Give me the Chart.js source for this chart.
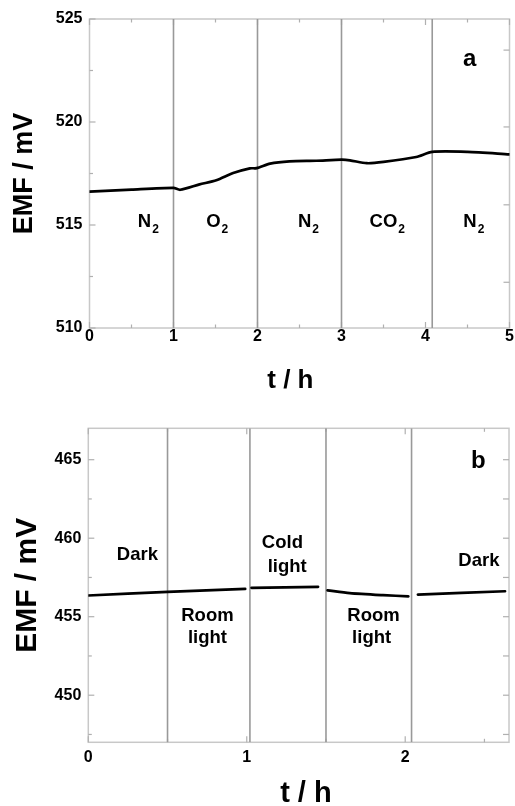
<!DOCTYPE html>
<html><head><meta charset="utf-8">
<script src="https://cdn.jsdelivr.net/npm/chart.js@4/dist/chart.umd.min.js"></script>
<style>
html,body{margin:0;padding:0;background:#fff;}
#wrap{position:relative;width:515px;height:806px;overflow:hidden;}
.box{position:absolute;left:0;width:515px;height:403px;}
canvas{display:block;}
</style></head><body>
<div id="wrap">
<div class="box" style="top:0"><canvas id="cA"></canvas></div>
<div class="box" style="top:403px"><canvas id="cB"></canvas></div>
</div>
<script>
// ---------- Panel a data ----------
const timeA = [0, 0.5, 1.0, 1.08, 1.31, 1.51, 1.71, 1.91, 1.99, 2.15, 2.38, 2.7, 3.0, 3.1, 3.3, 3.5, 3.89, 4.08, 4.5, 5.0];
const emfA  = [516.62, 516.72, 516.80, 516.71, 516.97, 517.17, 517.52, 517.75, 517.76, 517.98, 518.09, 518.12, 518.17, 518.14, 518.0, 518.06, 518.3, 518.55, 518.55, 518.43];
const switchTimesA = [1.0, 2.0, 3.0, 4.08];
const gasNames = ['N', 'O', 'N', 'CO', 'N'];
const gasSubs  = ['2', '2', '2', '2', '2'];
const xTicksA = [0, 1, 2, 3, 4, 5];
const xMinorA = [0.5, 1.5, 2.5, 3.5, 4.5];
const yTicksA = [510, 515, 520, 525];
const yMinorA = [512.5, 517.5, 522.5];
const yRightTicksA = [523.49, 519.76, 515.98, 512.22];

// ---------- Panel b data ----------
const timeB1 = [0, 0.5, 0.99];
const emfB1  = [456.35, 456.58, 456.77];
const timeB2 = [1.03, 1.45];
const emfB2  = [456.84, 456.90];
const timeB3 = [1.51, 1.65, 1.86, 2.02];
const emfB3  = [456.68, 456.50, 456.37, 456.30];
const timeB4 = [2.08, 2.63];
const emfB4  = [456.41, 456.62];
const switchTimesB = [0.50, 1.02, 1.50, 2.04];
const lightNames = ['Dark', 'Room', 'light', 'Cold', 'light', 'Room', 'light', 'Dark'];
const xTicksB = [0, 1, 2];
const xMinorB = [0.5, 1.5, 2.5];
const yTicksB = [450, 455, 460, 465];
const yMinorB = [447.5, 452.5, 457.5, 462.5];

// ---------- label placement (data coordinates) ----------
const gasPosA = [[0.70, 514.89], [1.52, 514.89], [2.607, 514.89], [3.545, 514.89], [4.575, 514.89]];
const panelTagA = {text: 'a', x: 4.525, y: 522.71};
const lightPosB = [[0.31, 458.63], [0.752, 454.72], [0.752, 453.33], [1.225, 459.37], [1.255, 457.87],
                   [1.80, 454.72], [1.788, 453.33], [2.465, 458.2]];
const panelTagB = {text: 'b', x: 2.462, y: 464.49};

const FONT = "'Liberation Sans', Arial, Helvetica, sans-serif";
const pts = (xs, ys) => xs.map((x, i) => ({x: x, y: ys[i]}));

function frameTicksPlugin(spec) {
  return {
    id: 'frameTicks',
    beforeDatasetsDraw(chart) {
      const ctx = chart.ctx, a = chart.chartArea, xs = chart.scales.x, ys = chart.scales.y;
      ctx.save();
      ctx.strokeStyle = '#c8c8c8';
      ctx.lineWidth = 1.5;
      ctx.strokeRect(a.left, a.top, a.right - a.left, a.bottom - a.top);
      ctx.strokeStyle = '#b0b0b0';
      ctx.lineWidth = 1.2;
      const line = (x1, y1, x2, y2) => { ctx.beginPath(); ctx.moveTo(x1, y1); ctx.lineTo(x2, y2); ctx.stroke(); };
      spec.xMajor.forEach(v => { const p = xs.getPixelForValue(v); line(p, a.bottom, p, a.bottom - 6); line(p, a.top, p, a.top + 6); });
      spec.xMinor.forEach(v => { const p = xs.getPixelForValue(v); line(p, a.bottom, p, a.bottom - 3.5); line(p, a.top, p, a.top + 3.5); });
      spec.yMajor.forEach(v => { const p = ys.getPixelForValue(v); line(a.left, p, a.left + 6, p); });
      spec.yMinor.forEach(v => { const p = ys.getPixelForValue(v); line(a.left, p, a.left + 3.5, p); });
      spec.yRight.forEach(v => { const p = ys.getPixelForValue(v); line(a.right, p, a.right - 6, p); });
      ctx.restore();
    },
    afterDatasetsDraw(chart) {
      const ctx = chart.ctx, xs = chart.scales.x, ys = chart.scales.y;
      ctx.save();
      ctx.fillStyle = '#000';
      ctx.textBaseline = 'alphabetic';
      spec.labels.forEach(l => {
        const px = xs.getPixelForValue(l.x), py = ys.getPixelForValue(l.y);
        ctx.font = 'bold ' + l.size + 'px ' + FONT;
        const w1 = ctx.measureText(l.text).width;
        let w2 = 0;
        if (l.sub) { ctx.font = 'bold ' + l.subSize + 'px ' + FONT; w2 = ctx.measureText(l.sub).width + 1; }
        const x0 = px - (w1 + w2) / 2;
        ctx.textAlign = 'left';
        ctx.font = 'bold ' + l.size + 'px ' + FONT;
        ctx.fillText(l.text, x0, py);
        if (l.sub) {
          ctx.font = 'bold ' + l.subSize + 'px ' + FONT;
          ctx.fillText(l.sub, x0 + w1 + 1, py + 6);
        }
      });
      ctx.restore();
    }
  };
}

function makeChart(id, cfg) {
  const verticals = cfg.switches.map(t => ({
    data: [{x: t, y: cfg.yMin}, {x: t, y: cfg.yMax}],
    borderColor: '#999999', borderWidth: 1.6, pointRadius: 0, order: 2, tension: 0
  }));
  const curves = cfg.curves.map(c => ({
    data: c, borderColor: '#000', borderWidth: 2.7, pointRadius: 0, order: 1, tension: 0.25,
    borderCapStyle: 'round', borderJoinStyle: 'round'
  }));
  const el = document.getElementById(id);
  el.width = 515; el.height = 403;
  return new Chart(el, {
    type: 'line',
    data: {datasets: curves.concat(verticals)},
    options: {
      responsive: false, animation: false, devicePixelRatio: 1,
      layout: {padding: {left: 0, right: cfg.padRight, top: cfg.padTop, bottom: 0}},
      plugins: {legend: {display: false}, tooltip: {enabled: false}},
      scales: {
        x: {
          type: 'linear', min: cfg.xMin, max: cfg.xMax,
          grid: {display: false, drawTicks: false}, border: {display: false},
          afterBuildTicks: s => { s.ticks = cfg.xTicks.map(v => ({value: v})); },
          afterFit: s => { s.height = cfg.xHeight; },
          ticks: {color: '#000', padding: cfg.xTickPad, maxRotation: 0, font: {family: FONT, size: 16, weight: 'bold', lineHeight: 1}},
          title: {display: true, text: cfg.xTitle, color: '#000', padding: {top: 0, bottom: cfg.xTitlePad},
                  font: {family: FONT, size: cfg.xTitleSize, weight: 'bold', lineHeight: 0.8}}
        },
        y: {
          type: 'linear', min: cfg.yMin, max: cfg.yMax,
          grid: {display: false, drawTicks: false}, border: {display: false},
          afterBuildTicks: s => { s.ticks = cfg.yTicks.map(v => ({value: v})); },
          afterFit: s => { s.width = cfg.yWidth; },
          ticks: {color: '#000', padding: 7, font: {family: FONT, size: 16, weight: 'bold'}},
          title: {display: true, text: 'EMF / mV', color: '#000', padding: {top: cfg.yTitlePad, bottom: 0},
                  font: {family: FONT, size: cfg.yTitleSize, weight: 'bold', lineHeight: 1.2}}
        }
      }
    },
    plugins: [frameTicksPlugin(cfg.frame)]
  });
}

makeChart('cA', {
  xMin: 0, xMax: 5, yMin: 510, yMax: 525,
  xTicks: xTicksA, yTicks: yTicksA,
  switches: switchTimesA,
  curves: [pts(timeA, emfA)],
  padRight: 5.5, padTop: 19, xHeight: 75, yWidth: 89.5,
  xTickPad: 1, xTitlePad: 12, xTitleSize: 26, yTitlePad: 8, yTitleSize: 27,
  xTitle: 't / h\u2002\u2009',
  frame: {
    xMajor: xTicksA, xMinor: xMinorA, yMajor: yTicksA, yMinor: yMinorA, yRight: yRightTicksA,
    labels: gasNames.map((n, i) => ({text: n, sub: gasSubs[i], x: gasPosA[i][0], y: gasPosA[i][1], size: 18.5, subSize: 12}))
      .concat([{text: panelTagA.text, x: panelTagA.x, y: panelTagA.y, size: 24}])
  }
});

makeChart('cB', {
  xMin: 0, xMax: 2.655, yMin: 447, yMax: 467,
  xTicks: xTicksB, yTicks: yTicksB,
  switches: switchTimesB,
  curves: [pts(timeB1, emfB1), pts(timeB2, emfB2), pts(timeB3, emfB3), pts(timeB4, emfB4)],
  padRight: 6, padTop: 25.3, xHeight: 63.7, yWidth: 88.3,
  xTickPad: 7, xTitlePad: 0, xTitleSize: 29, yTitlePad: 10, yTitleSize: 30,
  xTitle: '\u2002t / h',
  frame: {
    xMajor: xTicksB, xMinor: xMinorB, yMajor: yTicksB, yMinor: yMinorB, yRight: yTicksB.concat(yMinorB),
    labels: lightNames.map((n, i) => ({text: n, x: lightPosB[i][0], y: lightPosB[i][1], size: 18.5}))
      .concat([{text: panelTagB.text, x: panelTagB.x, y: panelTagB.y, size: 24}])
  }
});
</script>
</body></html>
